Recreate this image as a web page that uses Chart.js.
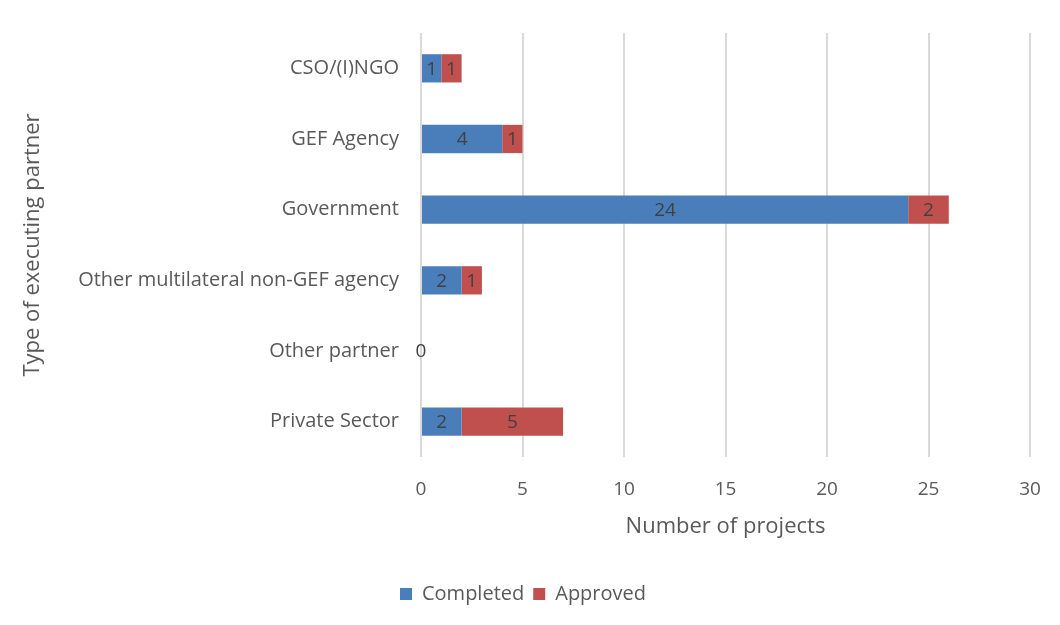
<!DOCTYPE html>
<html>
<head>
<meta charset="utf-8">
<script src="https://cdn.jsdelivr.net/npm/chart.js@4.4.0/dist/chart.umd.min.js"></script>
<style>
  html, body { margin: 0; padding: 0; background: #fff; }
  #wrap { width: 1060px; height: 625px; }
</style>
</head>
<body>
<div id="wrap"><canvas id="projectChart"></canvas></div>
<script>
// data kategori dan nilai
const partners = ['CSO/(I)NGO', 'GEF Agency', 'Government', 'Other multilateral non-GEF agency', 'Other partner', 'Private Sector'];
const completed = [1, 4, 24, 2, 0, 2];
const approved = [1, 1, 2, 1, 0, 5];
const xTicks = [0, 5, 10, 15, 20, 25, 30];

const fontFamily = '"Open Sans", Lato, sans-serif';
const textGrey = '#595959';

// plugin kecil untuk label angka di tengah bar
const barLabels = {
    id: 'barLabels',
    afterDatasetsDraw(chart) {
        const ctx = chart.ctx;
        ctx.save();
        ctx.font = '19px ' + fontFamily;
        ctx.fillStyle = '#404040';
        ctx.textAlign = 'center';
        ctx.textBaseline = 'middle';
        chart.data.datasets.forEach((ds, i) => {
            const meta = chart.getDatasetMeta(i);
            meta.data.forEach((bar, j) => {
                const v = ds.data[j];
                // Excel cuma tampilkan satu nol (seri pertama)
                if (v === 0 && i > 0) return;
                const cx = (bar.x + bar.base) / 2;
                ctx.fillText(String(v), cx, bar.y + 1);
            });
        });
        ctx.restore();
    }
};

const ctx = document.getElementById('projectChart').getContext('2d');
const projectChart = new Chart(ctx, {
    type: 'bar',
    data: {
        labels: partners,
        datasets: [{
            label: 'Completed',
            data: completed,
            backgroundColor: '#4A7EBB',
            borderWidth: 0,
            categoryPercentage: 0.4,
            barPercentage: 1.0
        }, {
            label: 'Approved',
            data: approved,
            backgroundColor: '#C0504D',
            borderWidth: 0,
            categoryPercentage: 0.4,
            barPercentage: 1.0
        }]
    },
    options: {
        indexAxis: 'y',
        responsive: true,
        maintainAspectRatio: false,
        animation: false,
        layout: { padding: { top: 33, right: 30, bottom: 11, left: 16 } },
        plugins: {
            legend: {
                position: 'bottom',
                labels: {
                    boxWidth: 12,
                    boxHeight: 12,
                    padding: 9,
                    color: textGrey,
                    font: { family: fontFamily, size: 20 }
                }
            },
            tooltip: { enabled: false }
        },
        scales: {
            x: {
                stacked: true,
                min: 0,
                max: 30,
                afterBuildTicks(scale) {
                    scale.ticks = xTicks.map(v => ({ value: v }));
                },
                grid: { color: '#D9D9D9', lineWidth: 2, drawTicks: false },
                border: { display: false },
                ticks: { color: textGrey, padding: 21, font: { family: fontFamily, size: 19 } },
                title: {
                    display: true,
                    text: 'Number of projects',
                    color: textGrey,
                    padding: { top: 8, bottom: 35 },
                    font: { family: fontFamily, size: 22 }
                },
                afterFit(scale) {
                    scale.height = 118;
                    scale.paddingLeft = 0;
                    scale.paddingRight = 0;
                }
            },
            y: {
                stacked: true,
                grid: { display: false },
                border: { display: false },
                ticks: { color: textGrey, padding: 14, font: { family: fontFamily, size: 20 } },
                title: {
                    display: true,
                    text: 'Type of executing partner',
                    color: textGrey,
                    font: { family: fontFamily, size: 22 }
                },
                afterFit(scale) { scale.width = 405; }
            }
        }
    },
    plugins: [barLabels]
});
</script>
</body>
</html>
